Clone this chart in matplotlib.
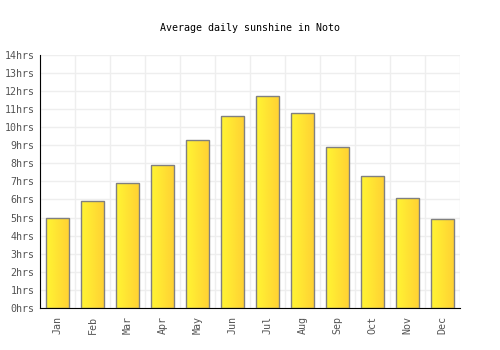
import numpy as np
import matplotlib
matplotlib.use("Agg")
import matplotlib.pyplot as plt
from matplotlib.colors import LinearSegmentedColormap

months = ["Jan", "Feb", "Mar", "Apr", "May", "Jun", "Jul", "Aug", "Sep", "Oct", "Nov", "Dec"]
sunshine = [5.0, 5.9, 6.9, 7.9, 9.3, 10.6, 11.7, 10.75, 8.9, 7.3, 6.1, 4.9]
yticks = list(range(0, 15))
ytick_labels = [f"{v}hrs" for v in yticks]
title = "Average daily sunshine in Noto"

plt.rcParams['font.family'] = ['DejaVu Sans Mono']

fig = plt.figure(figsize=(5, 3.5), dpi=100)
ax = fig.add_axes([0.08, 0.12, 0.84, 0.724])

x = np.arange(len(months))
width = 0.67
cmap = LinearSegmentedColormap.from_list("sun", ["#FFF533", "#FFD033"])
grad = np.linspace(0, 1, 64).reshape(1, -1)

bars = ax.bar(x, sunshine, width=width, color="none", edgecolor="#808080", linewidth=1.0, zorder=3)
for b in bars:
    x0, w, h = b.get_x(), b.get_width(), b.get_height()
    im = ax.imshow(grad, cmap=cmap, extent=[x0, x0 + w, 0, h], aspect="auto", zorder=2, interpolation="bilinear")
    im.set_clip_path(b)

ax.set_xlim(-0.5, len(months) - 0.5)
ax.set_ylim(0, 14)
ax.set_yticks(yticks)
ax.set_yticklabels(ytick_labels)
ax.set_xticks(x)
ax.set_xticklabels(months, rotation=90)
ax.set_xticks(np.arange(-0.5, len(months), 1), minor=True)

ax.grid(False)
ax.yaxis.grid(True, color="#eeeeee", linewidth=1, zorder=0)
ax.xaxis.grid(True, which="minor", color="#eeeeee", linewidth=1, zorder=0)
ax.set_axisbelow(True)

for s in ["top", "right"]:
    ax.spines[s].set_visible(False)
ax.spines["left"].set_color("black")
ax.spines["bottom"].set_color("black")

ax.tick_params(axis="both", which="both", length=0, labelsize=7.2, colors="#555555", pad=4)
ax.tick_params(axis="x", pad=6)

fig.text(0.5, 0.92, title, ha="center", va="center", fontsize=7.2, color="black")

fig.savefig("out.png", dpi=100)
